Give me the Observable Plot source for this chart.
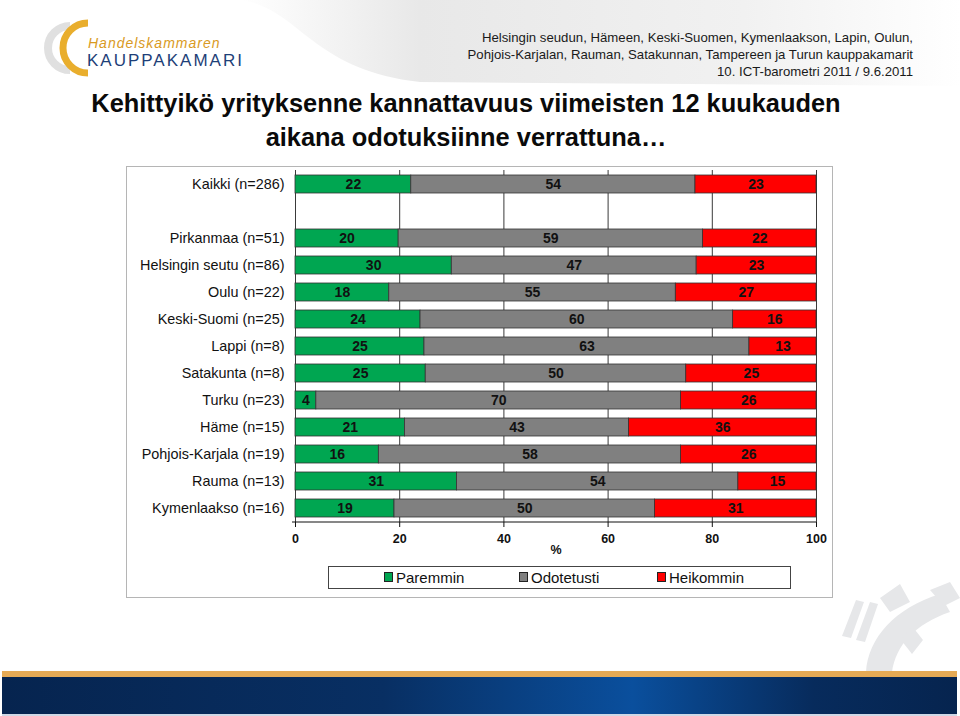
<!DOCTYPE html>
<html>
<head>
<meta charset="utf-8">
<script src="https://cdn.jsdelivr.net/npm/d3@7"></script>
<script src="https://cdn.jsdelivr.net/npm/@observablehq/plot@0.6"></script>
<style>
  html, body { margin: 0; padding: 0; background: #fff; }
  #page { position: relative; width: 960px; height: 716px; overflow: hidden; font-family: "Liberation Sans", Arial, sans-serif; background: #fff; }
  #deco { position: absolute; left: 0; top: 0; }
  #hdr { position: absolute; right: 47px; top: 29px; text-align: right; font-size: 13.2px; line-height: 17px; color: #1a1a1a; }
  #title { position: absolute; left: 0; width: 932px; top: 86px; text-align: center; font-size: 25.4px; font-weight: bold; line-height: 34px; color: #0a0a0a; }
  #box { position: absolute; left: 126px; top: 166px; width: 705px; height: 430px; border: 1.5px solid #b5b5b5; background: #fff; }
  #chart { position: absolute; left: 127px; top: 167px; }
  #legend { position: absolute; left: 328px; top: 566px; width: 461px; height: 21px; border: 1px solid #444; background: #fff; font-size: 15px; color: #111; }
  .li { position: absolute; top: 2px; white-space: nowrap; }
  .sw { display: inline-block; width: 7px; height: 8px; border: 1px solid #222; margin-right: 3px; vertical-align: 1px; }
</style>
</head>
<body>
<div id="page">
  <svg id="deco" width="960" height="716">
    <defs>
      <linearGradient id="sw" x1="0" x2="1" y1="0" y2="0">
        <stop offset="0" stop-color="#ffffff"/>
        <stop offset="0.25" stop-color="#e8e8e8"/>
        <stop offset="0.7" stop-color="#f1f1f1"/>
        <stop offset="1" stop-color="#ffffff"/>
      </linearGradient>
      <linearGradient id="band" x1="0" x2="1" y1="0" y2="0">
        <stop offset="0" stop-color="#06244f"/>
        <stop offset="0.4" stop-color="#082f63"/>
        <stop offset="0.66" stop-color="#0a4f9d"/>
        <stop offset="0.85" stop-color="#072b5c"/>
        <stop offset="1" stop-color="#06244f"/>
      </linearGradient>
    </defs>
    <path d="M240,0 C300,8 310,70 420,82 L960,86 L960,0 Z" fill="url(#sw)"/>
    <!-- logo -->
    <path d="M70,26 A22,22 0 1,0 70,70" fill="none" stroke="#e0e0e0" stroke-width="8"/>
    <path d="M88,23 A25,25 0 1,0 88,73" fill="none" stroke="#e9ae2d" stroke-width="7"/>
    <text x="88" y="48" font-size="14" font-style="italic" fill="#d99a23" letter-spacing="1" font-family="Liberation Sans, Arial">Handelskammaren</text>
    <text x="87" y="66" font-size="17" fill="#1e3f78" letter-spacing="2" font-family="Liberation Sans, Arial">KAUPPAKAMARI</text>
    <!-- gear decoration -->
    <g fill="#e6e7e9">
      <path d="M866,672 C868,638 895,608 940,594 L950,612 C915,624 896,645 892,672 Z"/>
      <path d="M912,626 L923,640 L912,654 L901,640 Z"/>
      <path d="M842,636 L856,600 L864,602 L851,638 Z"/>
      <path d="M856,640 L870,602 L878,604 L865,642 Z"/>
      <path d="M880,598 L900,584 L910,602 L890,612 Z"/>
      <path d="M930,590 L950,582 L960,598 L944,606 Z"/>
    </g>
    <rect x="2" y="671" width="955" height="6" fill="#e5aa55"/>
    <rect x="2" y="677" width="955" height="37" fill="url(#band)"/>
    <rect x="2" y="714" width="955" height="2" fill="#cfd8e6"/>
  </svg>
  <div id="hdr">Helsingin seudun, Hämeen, Keski-Suomen, Kymenlaakson, Lapin, Oulun,<br>Pohjois-Karjalan, Rauman, Satakunnan, Tampereen ja Turun kauppakamarit<br>10. ICT-barometri 2011 / 9.6.2011</div>
  <div id="title">Kehittyikö yrityksenne kannattavuus viimeisten 12 kuukauden<br>aikana odotuksiinne verrattuna…</div>
  <div id="box"></div>
  <div id="chart"></div>
  <div id="legend"></div>
</div>
<script>
// ---- data ----
const regions = ["Kaikki (n=286)", "Pirkanmaa (n=51)", "Helsingin seutu (n=86)", "Oulu (n=22)", "Keski-Suomi (n=25)", "Lappi (n=8)", "Satakunta (n=8)", "Turku (n=23)", "Häme (n=15)", "Pohjois-Karjala (n=19)", "Rauma (n=13)", "Kymenlaakso (n=16)"];
const paremmin   = [22, 20, 30, 18, 24, 25, 25,  4, 21, 16, 31, 19];
const odotetusti = [54, 59, 47, 55, 60, 63, 50, 70, 43, 58, 54, 50];
const heikommin  = [23, 22, 23, 27, 16, 13, 25, 26, 36, 26, 15, 31];
const categories = ["Paremmin", "Odotetusti", "Heikommin"];
const colors = ["#00a651", "#808080", "#ff0000"];
const xTicks = [0, 20, 40, 60, 80, 100];

const series = [paremmin, odotetusti, heikommin];
const data = [];
regions.forEach((r, i) => categories.forEach((c, j) => data.push({region: r, cat: c, value: series[j][i]})));

const blank = " ";
const yDomain = [regions[0], blank, ...regions.slice(1)];

const stackOpts = {x: "value", y: "region", z: "cat", offset: "normalize"};

const chart = Plot.plot({
  width: 705,
  height: 430,
  marginLeft: 168,
  marginRight: 16,
  marginTop: 3,
  marginBottom: 75,
  style: {fontFamily: "'Liberation Sans', Arial, sans-serif", fontSize: "13px", color: "#111", background: "transparent"},
  x: {domain: [0, 1]},
  y: {domain: yDomain, paddingInner: 0.33, paddingOuter: 0.15},
  color: {domain: categories, range: colors},
  marks: [
    Plot.ruleX(xTicks.map(d => d / 100), {stroke: "#3a3a3a", strokeWidth: 1}),
    Plot.barX(data, Plot.stackX({...stackOpts, fill: "cat", stroke: "#333", strokeWidth: 0.8})),
    Plot.textX(data, Plot.stackX({...stackOpts, text: "value", fontWeight: "bold", fontSize: 14, fill: "#111"})),
    Plot.axisX({ticks: xTicks.map(d => d / 100), tickFormat: d => Math.round(d * 100), tickSize: 5, tickPadding: 7, fontWeight: "bold", fontSize: 12.5, label: "%", labelAnchor: "center", labelOffset: 31, labelArrow: "none"}),
    Plot.axisY({tickSize: 0, tickPadding: 11, fontSize: 14.4, label: null})
  ]
});

// axis baseline through the library's scales
const xs = chart.scale("x"), ys = chart.scale("y");
const yBottom = Math.max(...ys.range);
d3.select(chart).append("line")
  .attr("x1", xs.apply(0) - 3).attr("x2", xs.apply(1))
  .attr("y1", yBottom).attr("y2", yBottom)
  .attr("stroke", "#111").attr("stroke-width", 1.2);

document.getElementById("chart").appendChild(chart);

// legend
const legendPos = [55, 190, 328];
const legend = d3.select("#legend");
categories.forEach((c, i) => {
  const item = legend.append("span").attr("class", "li").style("left", legendPos[i] + "px");
  item.append("span").attr("class", "sw").style("background", colors[i]);
  item.append("span").text(c);
});
</script>
</body>
</html>
